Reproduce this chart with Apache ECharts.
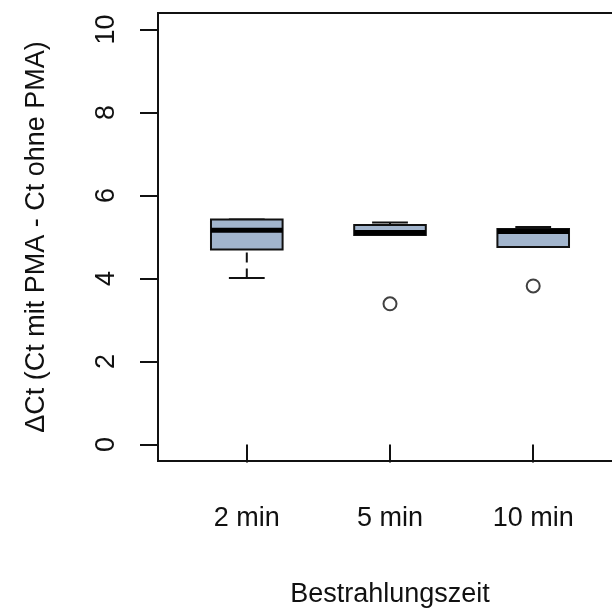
<!DOCTYPE html>
<html>
<head>
<meta charset="utf-8">
<script src="https://cdn.jsdelivr.net/npm/echarts@6/dist/echarts.min.js"></script>
<style>html,body{margin:0;padding:0;background:#fff}#c{width:612px;height:614px}</style>
</head>
<body>
<div id="c"></div>
<script>
const categories = ['2 min', '5 min', '10 min'];
// [lower whisker, Q1, median, Q3, upper whisker]
const whiskerLow = [4.01, 5.05, 4.76];
const q1 = [4.70, 5.05, 4.76];
const median = [5.16, 5.11, 5.13];
const q3 = [5.42, 5.29, 5.19];
const whiskerHigh = [5.42, 5.35, 5.24];
const outliers = [[2, 3.39], [3, 3.82]];
const yTicks = [0, 2, 4, 6, 8, 10];
const xTicks = [1, 2, 3];

const FONT = 'Liberation Sans, Arial, sans-serif';
const boxData = categories.map((c, i) => [i + 1, whiskerLow[i], q1[i], median[i], q3[i], whiskerHigh[i]]);

const chart = echarts.init(document.getElementById('c'), null, {renderer: 'canvas'});
chart.setOption({
  backgroundColor: '#ffffff',
  animation: false,
  grid: {left: 158, top: 13, width: 464, height: 448, show: true, borderColor: '#111', borderWidth: 2, backgroundColor: 'transparent', containLabel: false, outerBoundsMode: 'none'},
  xAxis: {
    type: 'value', min: 0.38, max: 3.62,
    name: 'Bestrahlungszeit', nameLocation: 'middle', nameGap: 120,
    nameTextStyle: {fontFamily: FONT, fontSize: 27, color: '#111'},
    axisLine: {show: false},
    splitLine: {show: false},
    axisTick: {show: true, length: 18, lineStyle: {color: '#111', width: 2}, customValues: xTicks},
    axisLabel: {show: true, margin: 44, fontFamily: FONT, fontSize: 27, color: '#111', customValues: xTicks,
      formatter: v => categories[Math.round(v) - 1] || ''}
  },
  yAxis: {
    type: 'value', min: -0.4, max: 10.4,
    name: 'ΔCt (Ct mit PMA - Ct ohne PMA)', nameLocation: 'middle', nameGap: 108,
    nameTextStyle: {fontFamily: FONT, fontSize: 27, color: '#111'},
    axisLine: {show: false},
    splitLine: {show: false},
    axisTick: {show: true, length: 18, lineStyle: {color: '#111', width: 2}, customValues: yTicks},
    axisLabel: {show: true, rotate: 90, margin: 38, fontFamily: FONT, fontSize: 27, color: '#111', customValues: yTicks}
  },
  series: [
    {
      type: 'custom',
      data: boxData,
      clip: false,
      encode: {x: 0, y: [1, 2, 3, 4, 5]},
      renderItem: function (params, api) {
        const x = api.value(0);
        const lo = api.value(1), a = api.value(2), m = api.value(3), b = api.value(4), hi = api.value(5);
        const bw = api.size([0.5, 0])[0];
        const sw = api.size([0.25, 0])[0];
        const pLo = api.coord([x, lo]), pA = api.coord([x, a]), pM = api.coord([x, m]), pB = api.coord([x, b]), pHi = api.coord([x, hi]);
        const cx = pA[0];
        const children = [];
        if (pLo[1] - pA[1] > 0.5) {
          children.push({type: 'line', shape: {x1: cx, y1: pA[1], x2: cx, y2: pLo[1]}, style: {stroke: '#111', lineWidth: 2, lineDash: [10, 6], lineDashOffset: -3}});
        }
        if (pB[1] - pHi[1] > 0.5) {
          children.push({type: 'line', shape: {x1: cx, y1: pB[1], x2: cx, y2: pHi[1]}, style: {stroke: '#111', lineWidth: 2}});
        }
        children.push({type: 'line', shape: {x1: cx - sw / 2, y1: pLo[1], x2: cx + sw / 2, y2: pLo[1]}, style: {stroke: '#111', lineWidth: 2}});
        children.push({type: 'line', shape: {x1: cx - sw / 2, y1: pHi[1], x2: cx + sw / 2, y2: pHi[1]}, style: {stroke: '#111', lineWidth: 2}});
        children.push({type: 'rect', shape: {x: cx - bw / 2, y: pB[1], width: bw, height: pA[1] - pB[1]}, style: {fill: '#A2B5CD', stroke: '#111', lineWidth: 2}});
        children.push({type: 'line', shape: {x1: cx - bw / 2, y1: pM[1], x2: cx + bw / 2, y2: pM[1]}, style: {stroke: '#000', lineWidth: 5}});
        return {type: 'group', children: children};
      },
      z: 3
    },
    {
      type: 'scatter',
      data: outliers,
      symbol: 'circle',
      symbolSize: 13,
      itemStyle: {color: '#fff', borderColor: '#111', borderWidth: 2},
      z: 4
    }
  ]
});
</script>
</body>
</html>
